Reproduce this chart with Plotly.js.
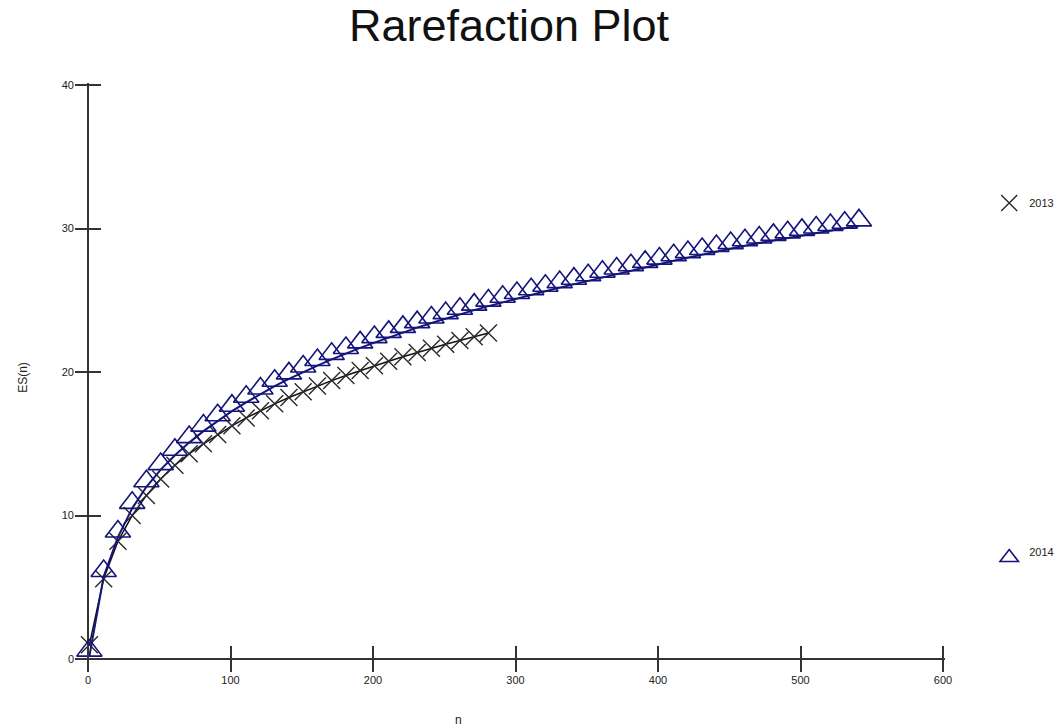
<!DOCTYPE html>
<html>
<head>
<meta charset="utf-8">
<script src="https://cdn.plot.ly/plotly-3.0.1.min.js"></script>
<style>
html,body{margin:0;padding:0;background:#fff;}
#chart{width:1058px;height:728px;}
</style>
</head>
<body>
<div id="chart"></div>
<script>
// ---- data ----
const n2013 = [1,11,21,31,41,51,61,71,81,91,101,111,121,131,141,151,161,171,181,191,201,211,221,231,241,251,261,271,281];
const es2013 = [1.0,5.6,8.2,10.0,11.4,12.55,13.5,14.3,15.0,15.65,16.25,16.8,17.3,17.78,18.22,18.63,19.02,19.4,19.76,20.1,20.43,20.75,21.06,21.36,21.65,21.93,22.2,22.46,22.72];

const n2014 = [1,11,21,31,41,51,61,71,81,91,101,111,121,131,141,151,161,171,181,191,201,211,221,231,241,251,261,271,281,291,301,311,321,331,341,351,361,371,381,391,401,411,421,431,441,451,461,471,481,491,501,511,521,531,541];
const es2014 = [0.2,5.75,8.5,10.5,12.0,13.2,14.2,15.08,15.88,16.6,17.27,17.89,18.47,19.01,19.52,20.0,20.45,20.88,21.29,21.68,22.05,22.41,22.76,23.09,23.41,23.72,24.02,24.31,24.59,24.86,25.12,25.38,25.63,25.88,26.12,26.36,26.6,26.83,27.06,27.29,27.52,27.75,27.97,28.19,28.4,28.6,28.8,28.99,29.17,29.35,29.52,29.69,29.86,30.02,30.18];

const seriesNames = ['2013','2014'];
const xTicks = [0,100,200,300,400,500,600];
const yTicks = [0,10,20,30,40];

// ---- styles ----
const FONT = 'Liberation Sans, Arial, sans-serif';
const NAVY = '#14147a';
const BLACK = '#2a2a2a';
const AXIS = '#333';
const TRI = 22;
const TICK = 13;              // half-length of each crossing tick, px
const PAD = 2;                // keeps the last ticks (600, 40) off the plot edge so they are drawn
const PX_X = 855 / 600;       // px per unit along x (0..600 spans 855 px)
const PX_Y = 574 / 40;        // px per unit along y (0..40 spans 574 px)

const traces = [
  {x:n2013, y:es2013, mode:'lines', line:{color:'#111', width:1.5}, showlegend:false, hoverinfo:'skip'},
  {x:n2013, y:es2013, mode:'markers', name:seriesNames[0], legend:'legend',
   marker:{symbol:'x-thin-open', size:17, line:{color:BLACK, width:1.4}, color:BLACK}},
  {x:n2014, y:es2014, mode:'lines', line:{color:NAVY, width:2}, showlegend:false, hoverinfo:'skip'},
  {x:n2014, y:es2014, mode:'markers', name:seriesNames[1], legend:'legend2',
   marker:{symbol:'triangle-down-open', angle:180, standoff:TRI/4, size:TRI, color:NAVY, line:{color:NAVY, width:1.6}}}
];

// The plot area extends one tick-length beyond the zero lines, so that
// inside ticks of double length cross the zero lines, which act as the axis lines.
function axis(lo, hi, ticks) {
  return {
    range:[lo, hi], showgrid:false, showline:false,
    zeroline:true, zerolinecolor:AXIS, zerolinewidth:2,
    ticks:'inside', ticklen:2*TICK, tickwidth:2, tickcolor:AXIS,
    tickfont:{family:FONT, size:11, color:'#222'},
    tickmode:'array', tickvals:ticks, ticktext:ticks.map(String), fixedrange:true
  };
}

const L = 88 - TICK, R = 115 - PAD, T = 85 - PAD, B = 69 - TICK;
const W = 1058 - L - R, H = 728 - T - B;

const layout = {
  width:1058, height:728,
  paper_bgcolor:'#fff', plot_bgcolor:'#fff',
  margin:{l:L, r:R, t:T, b:B, autoexpand:false},
  font:{family:FONT, color:'#111'},
  title:{text:'Rarefaction Plot', font:{family:FONT, size:45, color:'#111'},
         x:509/1058, xanchor:'center', xref:'container', y:0.966, yanchor:'middle', yref:'container'},
  xaxis:axis(-TICK / PX_X, 600 + PAD / PX_X, xTicks),
  yaxis:Object.assign(axis(-TICK / PX_Y, 40 + PAD / PX_Y, yTicks), {
        title:{text:'ES(n)', font:{family:FONT, size:12, color:'#222'}, standoff:31}}),
  legend:{x:0.935, xref:'container', xanchor:'left', y:(728-203)/728, yref:'container', yanchor:'middle',
          bgcolor:'rgba(0,0,0,0)', font:{family:FONT, size:11, color:'#222'}},
  legend2:{x:0.935, xref:'container', xanchor:'left', y:(728-552)/728, yref:'container', yanchor:'middle',
          bgcolor:'rgba(0,0,0,0)', font:{family:FONT, size:11, color:'#222'}},
  annotations:[
    {text:'n', xref:'paper', yref:'paper', x:(458-L)/W, y:-(711-(728-B))/H, xanchor:'center', yanchor:'top',
     showarrow:false, font:{family:FONT, size:12, color:'#222'}}
  ],
  showlegend:true
};

Plotly.newPlot('chart', traces, layout, {staticPlot:true, displayModeBar:false});
</script>
</body>
</html>
